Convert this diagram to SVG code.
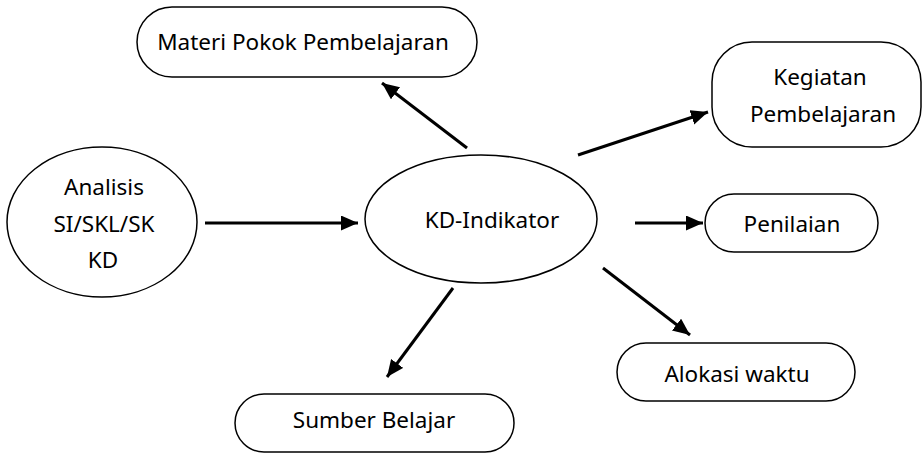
<svg xmlns="http://www.w3.org/2000/svg" width="923" height="454" viewBox="0 0 923 454">
<defs>
<style>
.shape{fill:#fff;stroke:#000;stroke-width:1.5}
.lbl{font-family:"Noto Sans","Open Sans",sans-serif;font-size:22.5px;fill:#000;text-anchor:middle}
.conn{stroke:#000;stroke-width:3;fill:none;marker-end:url(#ah)}
</style>
<marker id="ah" markerUnits="userSpaceOnUse" markerWidth="20" markerHeight="20" refX="17" refY="7.5" orient="auto">
<path d="M0,0 L17,7.5 L0,15 Z" fill="#000"/>
</marker>
</defs>
<rect width="923" height="454" fill="#fff"/>
<g id="analisis">
<ellipse class="shape" cx="102" cy="222" rx="95" ry="75"/>
<text class="lbl" x="104" y="195">Analisis</text>
<text class="lbl" x="104" y="232">SI/SKL/SK</text>
<text class="lbl" x="103" y="268">KD</text>
</g>
<g id="kd-indikator">
<ellipse class="shape" cx="481" cy="219" rx="116" ry="64"/>
<text class="lbl" x="492" y="228">KD-Indikator</text>
</g>
<g id="materi">
<rect class="shape" x="137" y="7" width="340" height="70" rx="35"/>
<text class="lbl" x="303" y="50">Materi Pokok Pembelajaran</text>
</g>
<g id="kegiatan">
<rect class="shape" x="712" y="42" width="209" height="105" rx="40"/>
<text class="lbl" x="820" y="85">Kegiatan</text>
<text class="lbl" x="823" y="122">Pembelajaran</text>
</g>
<g id="penilaian">
<rect class="shape" x="705" y="194" width="173" height="58" rx="29"/>
<text class="lbl" x="792" y="232">Penilaian</text>
</g>
<g id="alokasi">
<rect class="shape" x="617" y="343" width="238" height="58" rx="29"/>
<text class="lbl" x="737" y="382">Alokasi waktu</text>
</g>
<g id="sumber">
<rect class="shape" x="235" y="394" width="279" height="58" rx="29"/>
<text class="lbl" x="374" y="428">Sumber Belajar</text>
</g>
<g id="connectors">
<line class="conn" x1="205" y1="223" x2="358" y2="223"/>
<line class="conn" x1="467" y1="148" x2="382" y2="83"/>
<line class="conn" x1="578" y1="155" x2="708" y2="112"/>
<line class="conn" x1="635" y1="223" x2="703" y2="223"/>
<line class="conn" x1="603" y1="268" x2="690" y2="335"/>
<line class="conn" x1="453" y1="288" x2="387" y2="377"/>
</g>
</svg>
